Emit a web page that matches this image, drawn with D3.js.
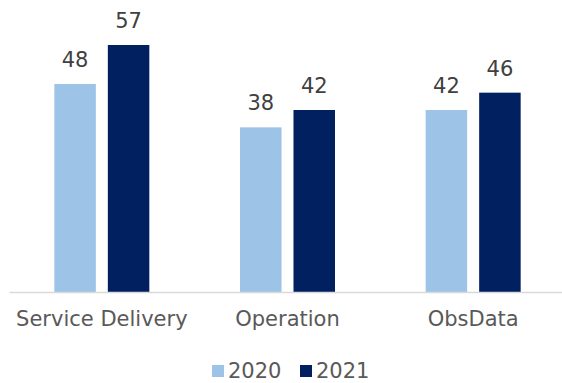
<!DOCTYPE html>
<html>
<head>
<meta charset="utf-8">
<script src="https://cdn.jsdelivr.net/npm/d3@7"></script>
<style>
  body { margin: 0; background: #fff; }
  svg { display: block; font-family: "DejaVu Sans", Verdana, sans-serif; }
</style>
</head>
<body>
<svg id="chart" width="562" height="383"></svg>
<script>
const categories = ["Service Delivery", "Operation", "ObsData"];
const seriesNames = ["2020", "2021"];
const values2020 = [48, 38, 42];
const values2021 = [57, 42, 46];
const colors = ["#9DC3E6", "#002060"];

const svg = d3.select("#chart");
const baseline = 292;

const x = d3.scaleBand().domain(categories).range([9, 566]).paddingInner(0).paddingOuter(0);
const xs = d3.scaleBand().domain(seriesNames).range([0, 95]).paddingInner(0.224);
const y = d3.scaleLinear().domain([0, 57]).range([baseline, 45]);

const series = [values2020, values2021];

const groups = svg.selectAll("g.cat")
  .data(categories)
  .join("g")
  .attr("class", "cat")
  .attr("transform", d => `translate(${x(d) + (x.bandwidth() - 95) / 2},0)`);

groups.selectAll("rect")
  .data((d, i) => seriesNames.map((s, j) => ({ s, v: series[j][i], j })))
  .join("rect")
  .attr("x", d => xs(d.s))
  .attr("width", xs.bandwidth())
  .attr("y", d => y(d.v))
  .attr("height", d => baseline - y(d.v))
  .attr("fill", d => colors[d.j]);

groups.selectAll("text.val")
  .data((d, i) => seriesNames.map((s, j) => ({ s, v: series[j][i] })))
  .join("text")
  .attr("class", "val")
  .attr("x", d => xs(d.s) + xs.bandwidth() / 2)
  .attr("y", d => y(d.v) - 17)
  .attr("text-anchor", "middle")
  .attr("font-size", 21)
  .attr("fill", "#404040")
  .text(d => d.v);

// axis baseline and category labels
const axis = svg.append("g").attr("transform", `translate(0,${baseline})`)
  .call(d3.axisBottom(x).tickSize(0).tickPadding(19));
axis.select(".domain").attr("stroke", "#d9d9d9").attr("stroke-width", 1.5);
axis.selectAll("text")
  .attr("font-size", 21)
  .attr("font-family", "DejaVu Sans, Verdana, sans-serif")
  .attr("fill", "#595959");

// legend
const legend = svg.append("g").attr("transform", "translate(212,365)");
const legendX = d3.scaleOrdinal().domain(seriesNames).range([0, 88]);
const items = legend.selectAll("g")
  .data(seriesNames)
  .join("g")
  .attr("transform", d => `translate(${legendX(d)},0)`);
items.append("rect").attr("width", 12).attr("height", 12)
  .attr("fill", (d, i) => colors[i]);
items.append("text").attr("x", 16).attr("y", 12.5)
  .attr("font-size", 21).attr("fill", "#595959").text(d => d);
</script>
</body>
</html>
